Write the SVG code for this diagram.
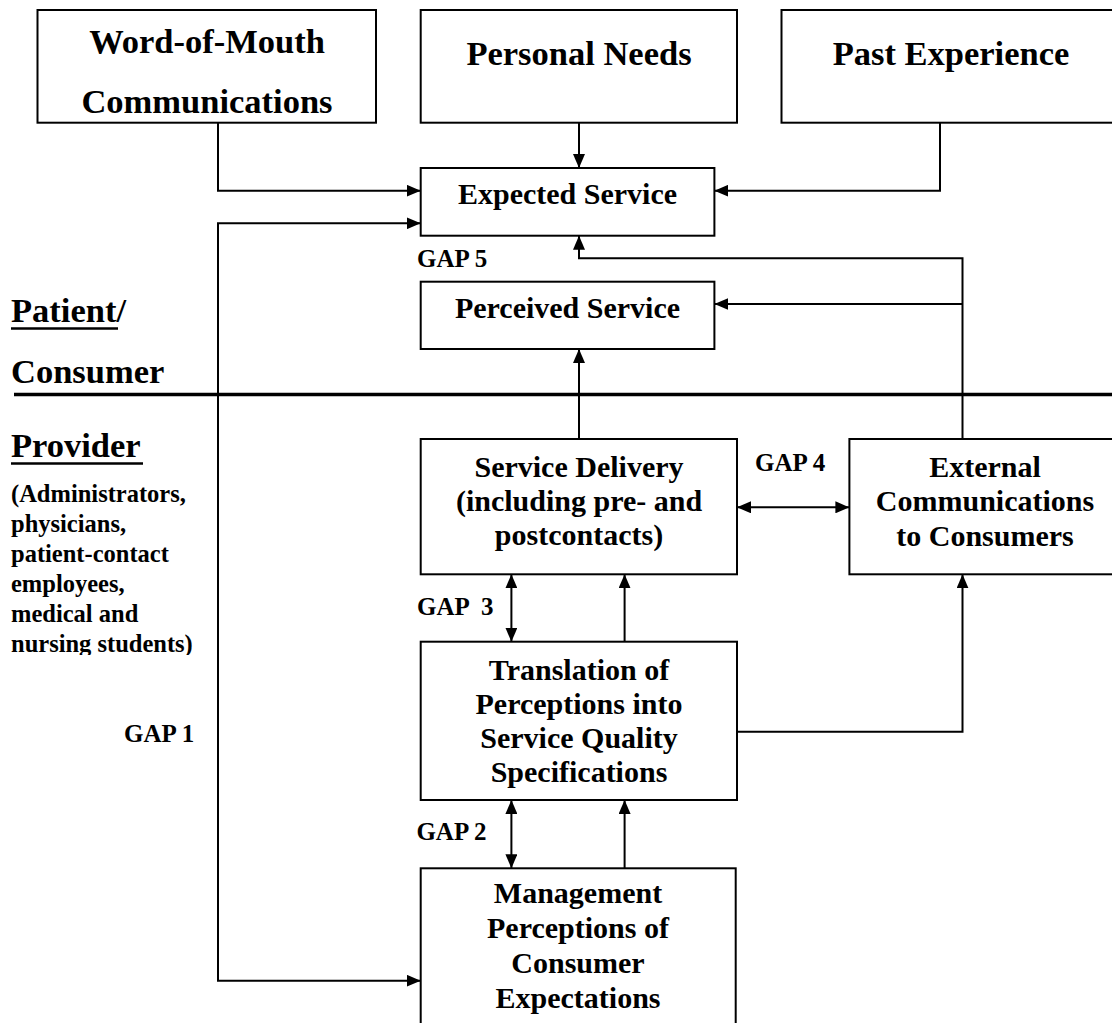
<svg xmlns="http://www.w3.org/2000/svg" width="1112" height="1023" viewBox="0 0 1112 1023">
<style>
text{font-family:"Liberation Serif","Times New Roman",serif;font-weight:bold;fill:#000}
.big{font-size:34.5px}
.mid{font-size:30px;text-anchor:middle}
.top{font-size:34.5px;text-anchor:middle}
.gap{font-size:25px;white-space:pre}
.small{font-size:24.5px}
.box{fill:#fff;stroke:#000;stroke-width:2}
.c{fill:none;stroke:#000;stroke-width:2}
</style>
<defs>
<marker id="ah" markerUnits="userSpaceOnUse" markerWidth="14" markerHeight="12" refX="14" refY="6" orient="auto-start-reverse">
<path d="M0,0 L14,6 L0,12 z" fill="#000"/>
</marker>
<clipPath id="clipLeft"><rect x="0" y="470" width="215" height="185"/></clipPath>
</defs>
<rect width="1112" height="1023" fill="#fff"/>

<g id="connectors">
<path class="c" d="M218,122.7 V190.7 H420.7" marker-end="url(#ah)"/>
<path class="c" d="M579,122.7 V168" marker-end="url(#ah)"/>
<path class="c" d="M940,122.7 V190.7 H714.4" marker-end="url(#ah)"/>
<path class="c" d="M420.7,223.3 H218 V980.7 H420.7" marker-start="url(#ah)" marker-end="url(#ah)"/>
<path class="c" d="M962.5,439 V258.3 H579 V235.7" marker-end="url(#ah)"/>
<path class="c" d="M962.5,304 H714.4" marker-end="url(#ah)"/>
<path class="c" d="M579,439 V349" marker-end="url(#ah)"/>
<path class="c" d="M737,507.3 H849.4" marker-start="url(#ah)" marker-end="url(#ah)"/>
<path class="c" d="M511.4,574.3 V641.7" marker-start="url(#ah)" marker-end="url(#ah)"/>
<path class="c" d="M624.6,641.7 V574.3" marker-end="url(#ah)"/>
<path class="c" d="M737,731.7 H962.5 V574.3" marker-end="url(#ah)"/>
<path class="c" d="M511.4,800 V868.3" marker-start="url(#ah)" marker-end="url(#ah)"/>
<path class="c" d="M624.6,868.3 V800" marker-end="url(#ah)"/>
</g>

<g id="divider">
<line x1="14" y1="394.5" x2="1112" y2="394.5" stroke="#000" stroke-width="3.5"/>
</g>

<g id="word-of-mouth">
<rect class="box" x="37.5" y="10" width="338.5" height="112.7"/>
<text class="top" x="207" y="53">Word-of-Mouth</text>
<text class="top" x="207" y="113">Communications</text>
</g>
<g id="personal-needs">
<rect class="box" x="420.7" y="10" width="316.3" height="112.7"/>
<text class="top" x="579" y="65">Personal Needs</text>
</g>
<g id="past-experience">
<rect class="box" x="781.5" y="10" width="345" height="112.7"/>
<text class="top" x="951" y="65">Past Experience</text>
</g>
<g id="expected-service">
<rect class="box" x="420.7" y="168" width="293.7" height="67.7"/>
<text class="mid" x="567.5" y="204">Expected Service</text>
</g>
<g id="perceived-service">
<rect class="box" x="420.7" y="281.7" width="293.7" height="67.3"/>
<text class="mid" x="567.5" y="318">Perceived Service</text>
</g>
<g id="service-delivery">
<rect class="box" x="420.7" y="439" width="316.3" height="135.3"/>
<text class="mid" x="579" y="477">Service Delivery</text>
<text class="mid" x="579" y="511">(including pre- and</text>
<text class="mid" x="579" y="545">postcontacts)</text>
</g>
<g id="external-communications">
<rect class="box" x="849.4" y="439" width="280" height="135.3"/>
<text class="mid" x="985" y="477">External</text>
<text class="mid" x="985" y="511">Communications</text>
<text class="mid" x="985" y="546">to Consumers</text>
</g>
<g id="translation">
<rect class="box" x="420.7" y="641.7" width="316.3" height="158.3"/>
<text class="mid" x="579" y="680">Translation of</text>
<text class="mid" x="579" y="714">Perceptions into</text>
<text class="mid" x="579" y="748">Service Quality</text>
<text class="mid" x="579" y="782">Specifications</text>
</g>
<g id="management">
<rect class="box" x="420.7" y="868.3" width="315" height="170"/>
<text class="mid" x="578" y="903">Management</text>
<text class="mid" x="578" y="938">Perceptions of</text>
<text class="mid" x="578" y="973">Consumer</text>
<text class="mid" x="578" y="1008">Expectations</text>
</g>

<g id="labels">
<text class="gap" x="417" y="267">GAP 5</text>
<text class="gap" x="755" y="471">GAP 4</text>
<text class="gap" x="417" y="615">GAP  3</text>
<text class="gap" x="416.4" y="840">GAP 2</text>
<text class="gap" x="124" y="742">GAP 1</text>
<text class="big" x="11" y="322">Patient/</text>
<line x1="11" y1="328.5" x2="118" y2="328.5" stroke="#000" stroke-width="2.5"/>
<text class="big" x="11" y="383">Consumer</text>
<text class="big" x="11" y="457">Provider</text>
<line x1="11" y1="463.5" x2="143" y2="463.5" stroke="#000" stroke-width="2.5"/>
<g clip-path="url(#clipLeft)">
<text class="small" x="11" y="502">(Administrators,</text>
<text class="small" x="11" y="532">physicians,</text>
<text class="small" x="11" y="562">patient-contact</text>
<text class="small" x="11" y="592">employees,</text>
<text class="small" x="11" y="622">medical and</text>
<text class="small" x="11" y="652">nursing students)</text>
</g>
</g>
</svg>
